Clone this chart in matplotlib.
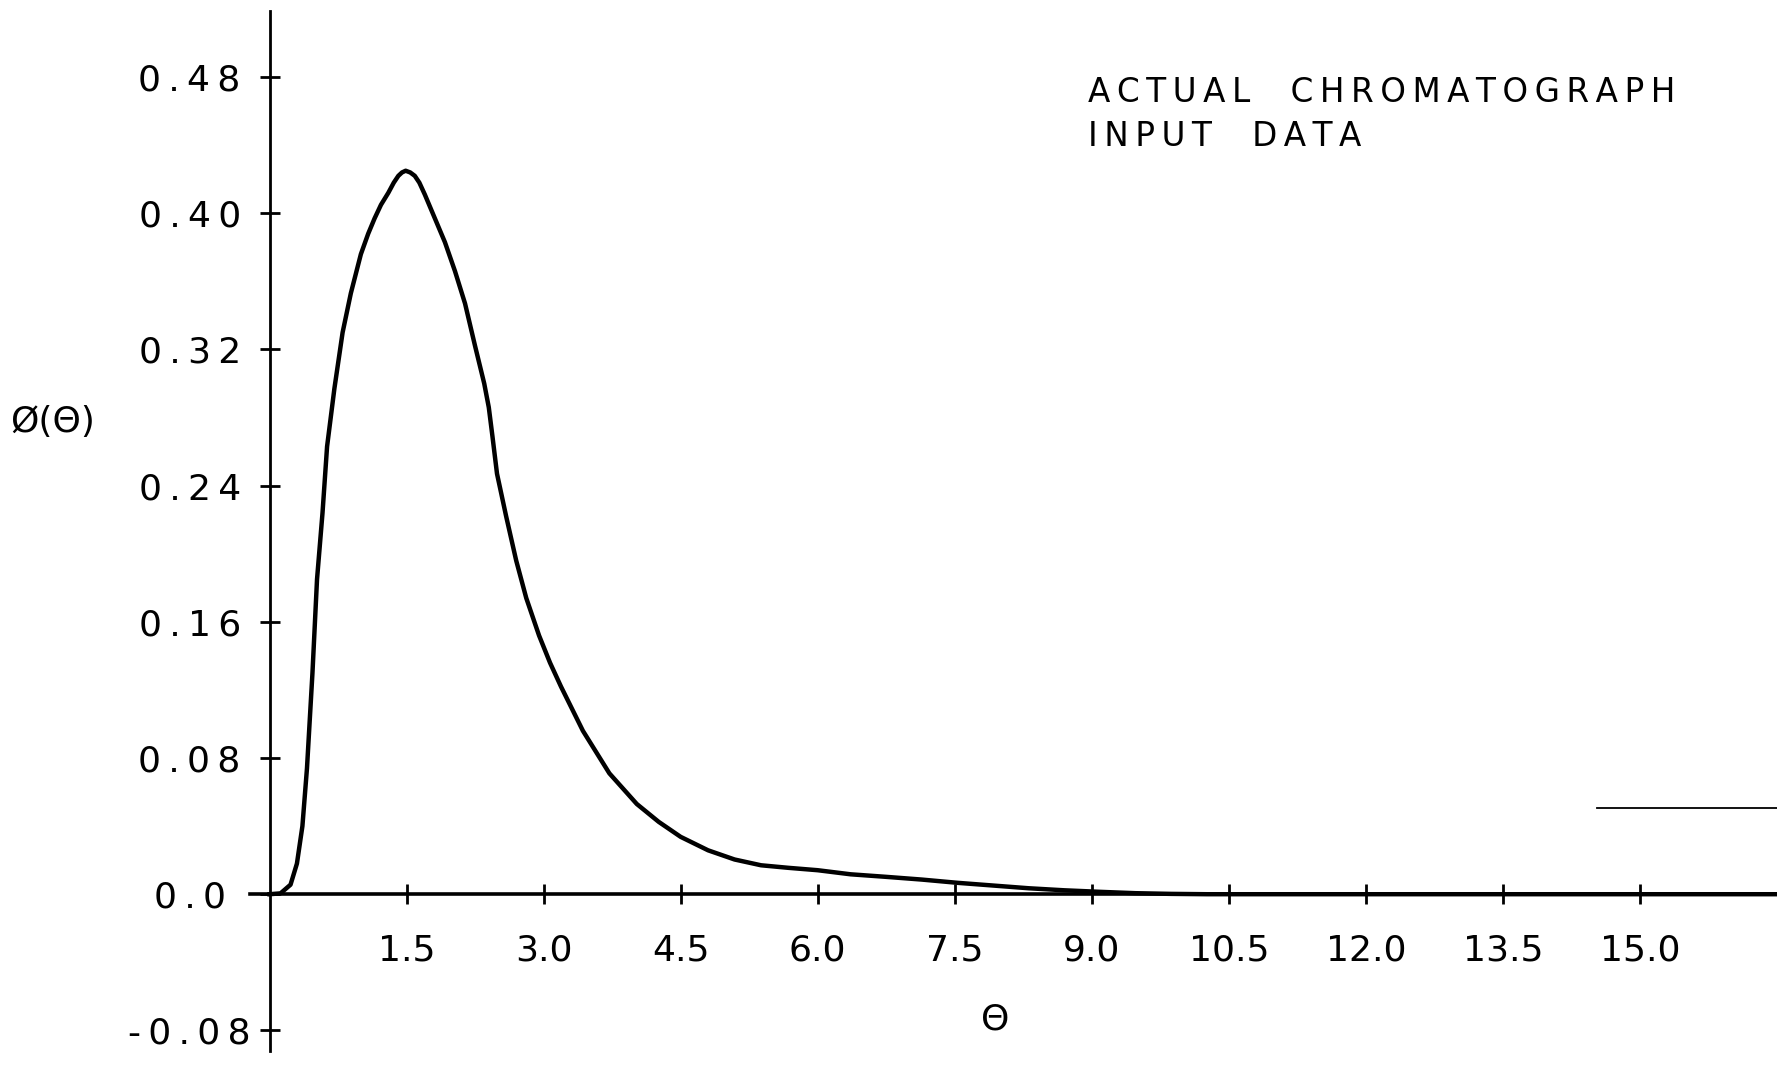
import matplotlib
matplotlib.use('Agg')
from matplotlib import pyplot as plt

# curve
theta = [0.0, 0.12, 0.23, 0.30, 0.36, 0.41, 0.47, 0.52, 0.58, 0.63, 0.71, 0.80,
         0.89, 1.00, 1.08, 1.15, 1.22, 1.30, 1.36, 1.41, 1.45, 1.49, 1.54, 1.59,
         1.64, 1.70, 1.81, 1.92, 2.03, 2.14, 2.25, 2.35, 2.40, 2.44, 2.49, 2.59,
         2.70, 2.81, 2.95, 3.07, 3.19, 3.43, 3.72, 4.02, 4.26, 4.50, 4.80, 5.09,
         5.38, 5.68, 6.00, 6.36, 6.75, 7.14, 7.53, 7.92, 8.31, 8.70, 9.09, 9.48,
         9.87, 10.26, 16.5]
phi = [0.0, 0.0005, 0.0056, 0.018, 0.040, 0.074, 0.130, 0.185, 0.224, 0.263,
       0.297, 0.330, 0.353, 0.376, 0.388, 0.397, 0.405, 0.412, 0.418, 0.422,
       0.424, 0.425, 0.424, 0.422, 0.418, 0.411, 0.397, 0.383, 0.366, 0.347,
       0.322, 0.300, 0.286, 0.269, 0.247, 0.222, 0.196, 0.174, 0.152, 0.136,
       0.122, 0.096, 0.071, 0.053, 0.0425, 0.0337, 0.0258, 0.0204, 0.0170,
       0.0155, 0.0141, 0.0117, 0.0102, 0.0086, 0.0067, 0.0051, 0.0035, 0.0023,
       0.0014, 0.0006, 0.0002, 0.0, 0.0]

# stray line at the right edge of the scan
stray_x = [14.53, 16.5]
stray_y = [0.0505, 0.0505]

x_ticks = [1.5, 3.0, 4.5, 6.0, 7.5, 9.0, 10.5, 12.0, 13.5, 15.0]
x_labels = ['1.5', '3.0', '4.5', '6.0', '7.5', '9.0', '10.5', '12.0', '13.5', '15.0']
y_ticks = [-0.08, 0.0, 0.08, 0.16, 0.24, 0.32, 0.40, 0.48]
y_labels = ['-0.08', '0.0', '0.08', '0.16', '0.24', '0.32', '0.40', '0.48']

def spaced(s):
    return '\u2009'.join(s)

fig = plt.figure(figsize=(17.77, 10.67), dpi=100)
ax = fig.add_axes([0, 0, 1, 1])
ax.set_xlim(-2.95, 16.5)
ax.set_ylim(-0.1015, 0.5253)

ax.plot(theta, phi, color='black', lw=3.2, solid_joinstyle='round')
ax.plot(stray_x, stray_y, color='black', lw=1.3)

for s in ['top', 'right']:
    ax.spines[s].set_visible(False)
ax.spines['left'].set_position(('data', 0))
ax.spines['bottom'].set_position(('data', 0))
ax.spines['left'].set_bounds(-0.092, 0.519)
ax.spines['bottom'].set_bounds(-0.21, 16.5)
ax.spines['left'].set_linewidth(2.0)
ax.spines['bottom'].set_linewidth(2.6)

ax.set_xticks(x_ticks)
ax.set_xticklabels(x_labels)
ax.set_yticks(y_ticks)
ax.set_yticklabels([spaced(l) for l in y_labels])
ax.tick_params(direction='inout', length=15, width=2, labelsize=26, colors='black')
ax.tick_params(axis='x', pad=21)
ax.tick_params(axis='y', pad=50)
for lab in ax.get_yticklabels():
    lab.set_ha('center')

ax.set_xlabel('Θ', fontsize=26)
ax.xaxis.set_label_coords(995 / 1777, 1 - 1020 / 1067)
ax.xaxis.label.set_va('center')
ax.set_ylabel('Ø(Θ)', rotation=0, fontsize=26, ha='left', va='center')
ax.yaxis.set_label_coords(10 / 1777, 1 - 422 / 1067)

fig.text(1088 / 1777, 1 - 102 / 1067, spaced('ACTUAL  CHROMATOGRAPH'),
         fontsize=23.5, va='baseline')
fig.text(1088 / 1777, 1 - 146 / 1067, spaced('INPUT  DATA'),
         fontsize=23.5, va='baseline')

fig.savefig('out.png', dpi=100)
